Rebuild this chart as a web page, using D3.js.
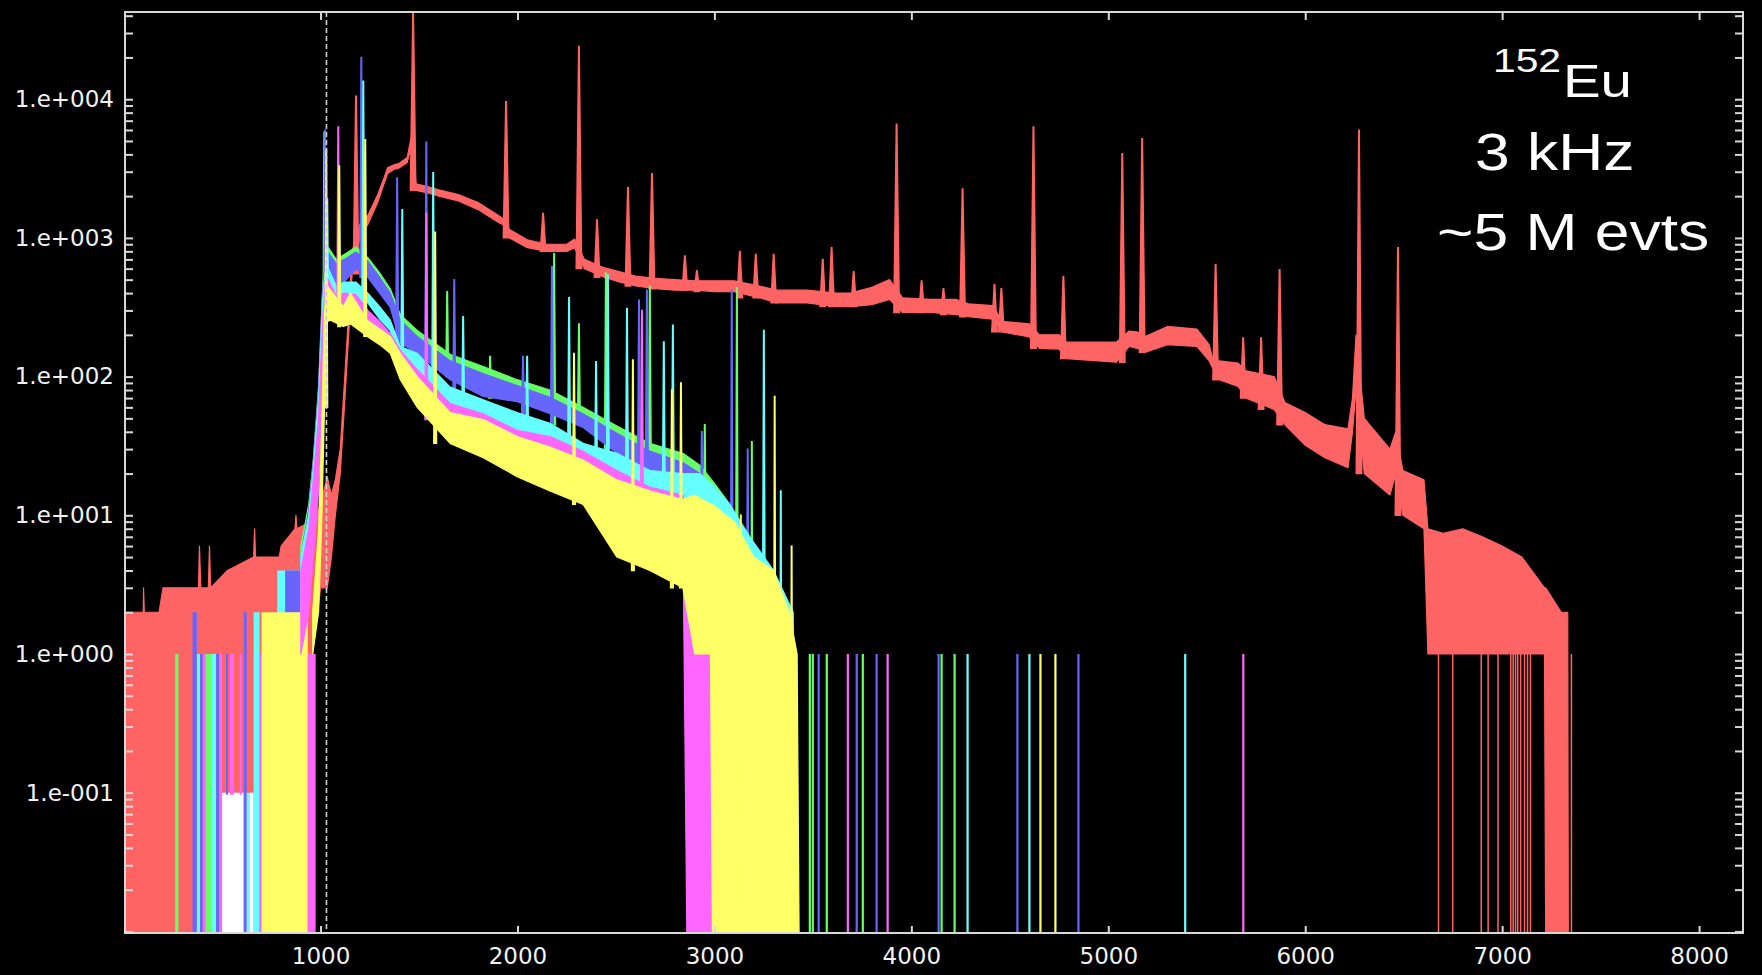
<!DOCTYPE html>
<html>
<head>
<meta charset="utf-8">
<script src="https://cdn.jsdelivr.net/npm/d3@7.9.0/dist/d3.min.js"></script>
<style>
  html, body { margin: 0; background: #000; }
  svg { display: block; }
  .tick text { font-family: "DejaVu Sans", sans-serif; font-size: 23px; fill: #f2f2f2; }
  .tick line { stroke: #d8d8d8; stroke-width: 2; }
  .note { font-family: "Liberation Sans", Arial, sans-serif; fill: #fff; }
</style>
</head>
<body>
<svg id="chart" width="1762" height="975"></svg>
<script>
// ---- data ----
const xTicks = [1000, 2000, 3000, 4000, 5000, 6000, 7000, 8000];
const yDecades = [0.1, 1, 10, 100, 1000, 10000];
const yTickLabels = ['1.e-001', '1.e+000', '1.e+001', '1.e+002', '1.e+003', '1.e+004'];
const threshold = 1030; // dashed line

// bands: [channel, low edge, high edge] of the noisy histogram, 0 = empty bin
const redBand = [[0,0,2],[100,0,2],[101,0,3],[105,0,2],[180,0,2],[200,0,3],[380,0,3],[385,0,6],[392,0,3],
  [430,0,3],[436,0,6],[442,0,3],[527,0,4],[660,0,5],[665,0,8],[670,0,5],[790,0,5],[800,0,6],[870,0,8],
  [875,0,10],[880,0,8],[950,0,9],[960,1,9],[1000,3,12],[1034,3,19],[1055,5,14],[1075,10,18],[1100,20,30],
  [1121,60,90],[1141,180,260],[1160,550,800],[1200,1000,1250],[1240,1250,1450],[1290,1800,2050],
  [1320,2400,2650],[1340,2900,3200],[1370,3100,3350],[1400,3200,3450],[1440,3500,3800],[1460,4500,5300],
  [1485,2200,2450],[1550,2100,2330],[1600,2000,2220],[1700,1850,2050],[1800,1600,1800],[1900,1300,1460],
  [1925,1250,1380],[1960,1000,1150],[2050,850,970],[2150,800,900],[2250,800,900],[2290,850,980],
  [2340,600,700],[2440,520,610],[2520,480,570],[2600,450,530],[2700,430,510],[2800,420,500],[2900,420,490],
  [3000,410,490],[3100,410,490],[3230,370,450],[3316,340,420],[3469,340,420],[3620,320,400],[3690,320,400],
  [3800,330,440],[3889,360,500],[3955,290,370],[4100,290,360],[4229,280,360],[4290,270,335],[4412,260,325],
  [4462,210,250],[4599,193,240],[4650,160,200],[4751,158,200],[4787,135,177],[5041,127,177],[5106,165,213],
  [5147,160,210],[5190,150,195],[5300,170,230],[5450,165,220],[5512,130,170],[5530,115,135],[5563,95,130],
  [5659,85,125],[5700,70,110],[5842,58,100],[5897,45,65],[6000,32,55],[6100,26,45],[6217,22,42],[6240,40,70],
  [6258,80,200],[6300,20,50],[6430,14,30],[6460,20,40],[6496,10,21],[6603,8,18],[6623,1,8],[6700,1,7.4],
  [6800,1,8],[6900,1,7],[7000,1,6],[7100,1,5],[7215,1,3],[7221,0,3],[7300,0,2],[7333,0,2],[7336,0,0]];
const redPeaks = [[1180,10500],[1470,42000],[1942,9600],[2130,1500],[2312,24000],[2404,1350],[2561,2300],
  [2683,2900],[2850,740],[2911,580],[3129,800],[3210,760],[3301,760],[3550,700],[3595,850],[3707,570],
  [3925,6600],[4052,490],[4163,430],[4260,2250],[4422,460],[4457,430],[4620,6300],[4772,525],[5071,4050],
  [5172,5200],[5545,640],[5685,190],[5776,190],[5870,590],[6273,5970],[6471,850]];
const redZeroBins = [6673,6745,6890,6925,6975,7040,7052,7064,7075,7090,7110,7125,7140,7348];

const greenBand = [[900,2,6],[940,4,12],[963,10,25],[990,30,85],[1010,150,420],[1025,350,800],[1040,480,850],
  [1080,450,700],[1120,500,760],[1180,620,860],[1240,540,720],[1300,420,560],[1354,330,430],[1405,190,280],
  [1491,150,215],[1658,100,145],[1826,80,118],[1998,70,95],[2165,56,80],[2333,45,60],[2505,30,44],
  [2672,22,33],[2840,16,28],[2926,11,23],[3000,7,17],[3078,4,12],[3180,1,6],[3300,0,2],[3340,0,0]];
const greenPeaks = [[1019,5800],[1643,410],[1861,140],[2186,770],[2312,240],[2449,560],[2672,450],
  [2951,45],[3114,435],[3190,34]];

const blueBand = [[900,2,5],[940,4,11],[963,10,24],[990,30,80],[1010,150,400],[1025,350,750],[1040,450,780],
  [1080,420,650],[1120,480,700],[1180,600,790],[1240,520,680],[1300,400,520],[1354,315,400],[1405,175,255],
  [1491,147,195],[1658,95,130],[1826,72,105],[1998,66,86],[2165,54,71],[2333,43,54],[2505,28,39],
  [2672,21,29],[2840,15,24],[2926,10,20],[3000,6,15],[3078,4,10],[3180,1,5],[3300,0,2],[3330,0,0]];
const bluePeaks = [[1024,6000],[1207,20000],[1389,2700],[1537,4900],[1679,500],[2028,140],[2175,620],
  [2617,355],[2657,420],[2936,40],[3088,420],[3169,30]];

const cyanBand = [[900,2,5],[940,3,10],[963,8,22],[990,25,70],[1010,120,350],[1025,300,600],[1040,350,600],
  [1080,300,450],[1120,330,480],[1180,350,480],[1240,340,400],[1300,260,320],[1354,215,255],[1405,130,165],
  [1491,112,147],[1658,64,84],[1826,52,68],[1998,41,55],[2165,35,46],[2333,25,33],[2505,18,28],
  [2672,15,21],[2840,13,20],[2926,10,20],[3000,6,16],[3078,4,12],[3180,2,7],[3300,1,4],[3400,0,2],[3420,0,0]];
const cyanPeaks = [[1034,1900],[1217,13500],[1415,1600],[1572,2950],[1724,270],[2049,140],[2262,370],
  [2399,128],[2459,540],[2556,310],[2743,178],[2789,235],[3251,215],[3337,15]];

const magentaBand = [[900,1,4],[940,2,8],[963,5,18],[990,15,50],[1010,80,250],[1025,250,500],[1040,300,500],
  [1080,270,380],[1120,280,400],[1180,290,390],[1240,255,300],[1300,210,250],[1354,185,205],[1405,118,155],
  [1491,84,112],[1658,49,64],[1826,43,54],[1998,33,41],[2165,28,37],[2333,21,29],[2505,15,21],
  [2672,12,16],[2840,8,14],[2860,0,10],[2990,0,5],[3050,0,3],[3150,0,2],[3200,0,0]];
const magentaPeaks = [[1090,6300],[1537,1500],[2632,300]];

const yellowBand = [[960,1,2],[990,2,8],[1005,8,40],[1020,60,300],[1035,250,450],[1050,255,420],
  [1116,230,320],[1151,240,400],[1237,195,255],[1300,170,220],[1354,147,195],[1405,95,147],[1491,60,100],
  [1658,33,55],[1826,26,49],[1998,19,37],[2165,15,31],[2333,12,25],[2505,5,18],[2672,4,15],[2840,3,13],
  [2900,1,14],[2980,1,12],[2990,0,12],[3100,0,9],[3200,0,5],[3300,0,4],[3380,0,2],[3420,0,1],[3430,0,0]];
const yellowPeaks = [[1029,4300],[1095,3300],[1227,5100],[1582,1100],[2287,147],[2586,132],[2784,80],
  [2830,90],[3134,10],[3306,72],[3392,6]];

// low-channel region: [from, to, low, high, colour]
const lowBars = [[262,278,0,1,'green'],[350,372,0,2,'blue'],[372,388,0,1,'cyan'],[388,402,0,1,'blue'],
  [402,415,0,1,'magenta'],[415,445,0,1,'green'],[445,470,0,1,'cyan'],[470,485,0,1,'blue'],
  [485,500,0,1,'magenta'],[500,610,0,0.1,'white'],[520,530,0.1,1,'blue'],[540,560,0.1,1,'magenta'],
  [590,600,0.1,1,'magenta'],[610,625,0,2,'blue'],[625,640,0,0.1,'cyan'],[640,660,0,0.1,'white'],
  [660,690,0,2,'cyan'],[690,700,0,1,'magenta'],[780,900,1,4,'cyan'],[820,900,1,4,'blue'],
  [700,935,0,2,'yellow'],[935,975,0,1,'magenta']];

// isolated one-count bins far out
const singleCounts = [[3413,'yellow'],[3484,'green'],[3499,'green'],[3529,'blue'],[3570,'green'],
  [3677,'magenta'],[3722,'blue'],[3753,'green'],[3823,'blue'],[3879,'magenta'],[4138,'blue'],[4153,'green'],
  [4219,'green'],[4285,'cyan'],[4538,'blue'],[4599,'cyan'],[4655,'yellow'],[4731,'yellow'],[4848,'blue'],
  [5390,'cyan'],[5685,'magenta']];

const colors = { red: '#ff6464', green: '#66ff66', blue: '#6666ff', cyan: '#66ffff',
  magenta: '#ff66ff', yellow: '#ffff66', white: '#ffffff' };

// ---- scales ----
const pLeft = 125, pRight = 1743, pTop = 12, pBottom = 933;
const x = d3.scaleLinear().domain([7, 8223]).range([pLeft, pRight]);
const y = d3.scaleLog().domain([0.00974, 42530]).range([pBottom, pTop]);
const Y = (v) => (v > 0 ? y(v) : pBottom + 2); // empty bins fall off the bottom

const svg = d3.select('#chart');
svg.append('rect').attr('width', 1762).attr('height', 975).attr('fill', '#000');

svg.append('clipPath').attr('id', 'plotclip')
  .append('rect').attr('x', pLeft).attr('y', pTop).attr('width', pRight - pLeft).attr('height', pBottom - pTop);

const plot = svg.append('g').attr('clip-path', 'url(#plotclip)');

let area = d3.area().x((d) => x(d[0])).y0((d) => Y(d[1])).y1((d) => Y(d[2]));

function drawBand(band, col) {
  plot.append('path')
    .attr('d', area(band))
    .attr('fill', col)
    .attr('stroke', col)
    .attr('stroke-width', 1.2)
    .attr('stroke-linejoin', 'round');
}

// peak spike rising from the low edge of its band
function drawPeaks(peaks, band, col, w) {
  let bis = d3.bisector((d) => d[0]).left;
  peaks.forEach((p) => {
    let i = bis(band, p[0]);
    let a = band[Math.max(i - 1, 0)], b = band[Math.min(i, band.length - 1)];
    let base = Math.min(a[1], b[1]);
    plot.append('path')
      .attr('d', `M${x(p[0] - w)},${Y(base)}L${x(p[0] - 1.5)},${Y(p[1])}L${x(p[0] + 1.5)},${Y(p[1])}L${x(p[0] + w)},${Y(base)}Z`)
      .attr('fill', col)
      .attr('stroke', col)
      .attr('stroke-width', 1.4);
  });
}

// red first, the other detectors on top
drawBand(redBand, colors.red);
drawPeaks(redPeaks, redBand, colors.red, 14);
redZeroBins.forEach((c) => {
  plot.append('rect').attr('x', x(c)).attr('width', 1.5)
    .attr('y', Y(1)).attr('height', pBottom - Y(1)).attr('fill', colors.red);
});

lowBars.forEach((d) => {
  plot.append('rect')
    .attr('x', x(d[0])).attr('width', x(d[1]) - x(d[0]))
    .attr('y', Y(d[3])).attr('height', Y(d[2]) - Y(d[3]) + 2)
    .attr('fill', colors[d[4]]);
});

drawBand(greenBand, colors.green);
drawPeaks(greenPeaks, greenBand, colors.green, 7);
drawBand(blueBand, colors.blue);
drawPeaks(bluePeaks, blueBand, colors.blue, 7);
drawBand(cyanBand, colors.cyan);
drawPeaks(cyanPeaks, cyanBand, colors.cyan, 7);
drawBand(magentaBand, colors.magenta);
drawPeaks(magentaPeaks, magentaBand, colors.magenta, 7);
drawBand(yellowBand, colors.yellow);
drawPeaks(yellowPeaks, yellowBand, colors.yellow, 7);

singleCounts.forEach((d) => {
  plot.append('rect').attr('x', x(d[0]) - 1).attr('width', 2.2)
    .attr('y', Y(1)).attr('height', pBottom - Y(1)).attr('fill', colors[d[1]]);
});

// threshold marker
svg.append('line')
  .attr('x1', x(threshold)).attr('x2', x(threshold))
  .attr('y1', pTop).attr('y2', pBottom)
  .attr('stroke', '#d0d0d0').attr('stroke-width', 1.6).attr('stroke-dasharray', '5,3');

// ---- axes, ticks pointing inwards ----
const yTicks = y.ticks();
const labelFor = (v) => {
  let k = yDecades.findIndex((d) => Math.abs(d - v) / d < 1e-6);
  return k >= 0 ? yTickLabels[k] : '';
};

svg.append('g').attr('transform', `translate(0,${pBottom})`)
  .call(d3.axisBottom(x).tickValues(xTicks).tickSize(-7).tickPadding(15).tickFormat(d3.format('d')));
svg.append('g').attr('transform', `translate(0,${pTop})`)
  .call(d3.axisTop(x).tickValues(xTicks).tickSize(-8).tickFormat(''));
svg.append('g').attr('transform', `translate(${pLeft},0)`)
  .call(d3.axisLeft(y).tickValues(yTicks).tickSize(-8).tickPadding(11).tickFormat(labelFor));
svg.append('g').attr('transform', `translate(${pRight},0)`)
  .call(d3.axisRight(y).tickValues(yTicks).tickSize(-8).tickFormat(''));
svg.selectAll('.domain').remove();

svg.append('rect')
  .attr('x', pLeft).attr('y', pTop).attr('width', pRight - pLeft).attr('height', pBottom - pTop)
  .attr('fill', 'none').attr('stroke', '#d8d8d8').attr('stroke-width', 2);

// ---- annotation ----
function note(txt, px, py, size) {
  svg.append('text').attr('class', 'note')
    .attr('transform', `translate(${px},${py}) scale(1.2,1)`)
    .attr('font-size', size)
    .text(txt);
}
note('152', 1493, 72, 34);
note('Eu', 1563, 97, 47);
note('3 kHz', 1475, 170, 52);
note('~5 M evts', 1437, 250, 52);
</script>
</body>
</html>
